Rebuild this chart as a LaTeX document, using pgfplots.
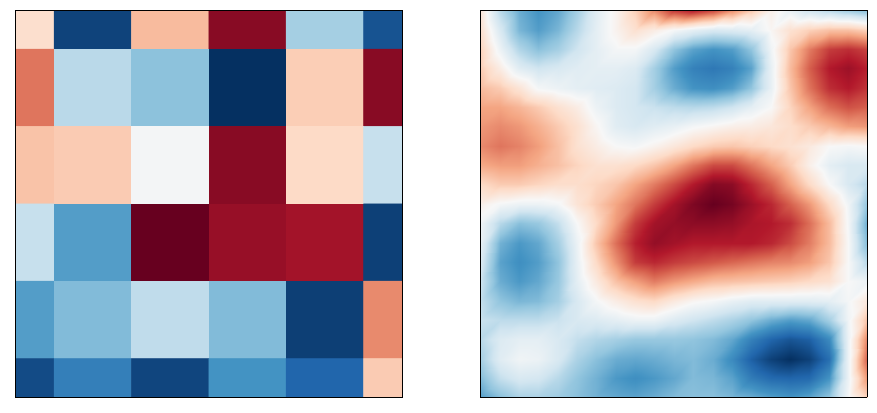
\documentclass[border=0pt]{standalone}
\usepackage{pgfplots}
\pgfplotsset{compat=1.18}
\pgfplotsset{
  colormap={rdbur}{
    rgb255(0cm)=(5,48,97); rgb255(1cm)=(33,102,172); rgb255(2cm)=(67,147,195);
    rgb255(3cm)=(146,197,222); rgb255(4cm)=(209,229,240); rgb255(5cm)=(247,247,247);
    rgb255(6cm)=(253,219,199); rgb255(7cm)=(244,165,130); rgb255(8cm)=(214,96,77);
    rgb255(9cm)=(178,24,43); rgb255(10cm)=(103,0,31)
  },
  panel/.style={
    scale only axis, width=290.25pt, height=290.25pt, anchor=south west,
    colormap name=rdbur, point meta min=0, point meta max=100,
    xtick=\empty, ytick=\empty, ztick=\empty, enlargelimits=false,
    y dir=reverse, axis on top, axis line style={line width=0.8pt}
  }
}
\begin{document}
\begin{tikzpicture}
\path[use as bounding box] (0,0) rectangle (657.75pt,309pt);
\begin{axis}[panel, at={(11.5pt,11pt)}, xmin=0, xmax=5, ymin=0, ymax=5]
\addplot[matrix plot*, mesh/cols=6, point meta=explicit]
 table[x expr={round(mod(\coordindex,6))}, y expr={round((\coordindex-mod(\coordindex,6))/6)}, meta index=0, row sep=\\, header=false]{
58.5\\3.5\\66\\95.6\\33\\6.4\\
77\\36.3\\29.4\\0\\62.5\\95.6\\
64.5\\63\\49\\95.6\\60\\38.4\\
38.5\\22\\100\\93.7\\92.1\\3\\
22\\28\\37.3\\28\\2.7\\74\\
5\\15.5\\3.9\\20\\10\\63\\
};
\end{axis}
\begin{axis}[panel, at={(360.25pt,11pt)}, xmin=0, xmax=20, ymin=0, ymax=20, view={0}{90}]
\addplot3[surf, shader=interp, mesh/cols=21, point meta=z]
 table[x expr={round(mod(\coordindex,21))}, y expr={round((\coordindex-mod(\coordindex,21))/21)}, z index=0, row sep=\\, header=false]{
57\\36\\25\\20\\24\\33\\44\\52\\62\\74\\86\\90\\84\\74\\64\\53\\46\\40\\36\\32\\28\\
59\\42\\27\\22\\27\\36\\45\\52\\58\\54\\49\\45\\42\\43\\45\\51\\58\\62\\65\\65\\62\\
62\\47\\35\\29\\33\\40\\45\\49\\49\\42\\30\\23\\20\\22\\30\\48\\64\\76\\85\\87\\84\\
63\\54\\44\\40\\42\\44\\45\\45\\43\\33\\22\\16\\14\\16\\23\\46\\66\\80\\90\\93\\89\\
66\\63\\57\\49\\47\\45\\44\\43\\41\\33\\25\\20\\19\\22\\30\\46\\64\\77\\87\\90\\86\\
70\\70\\67\\63\\58\\54\\47\\43\\41\\39\\37\\36\\37\\40\\45\\50\\61\\70\\78\\82\\80\\
72\\74\\72\\68\\63\\58\\51\\44\\42\\44\\46\\49\\51\\53\\54\\56\\59\\63\\67\\71\\72\\
74\\77\\75\\71\\65\\58\\54\\50\\49\\52\\56\\60\\63\\64\\62\\60\\58\\55\\50\\49\\50\\
69\\71\\71\\68\\65\\61\\58\\58\\60\\64\\70\\77\\83\\83\\77\\70\\63\\53\\45\\42\\42\\
60\\63\\63\\61\\59\\59\\61\\64\\70\\76\\83\\90\\96\\95\\88\\80\\70\\60\\50\\42\\36\\
53\\49\\47\\47\\49\\57\\63\\70\\77\\85\\92\\97\\100\\98\\93\\88\\80\\72\\60\\48\\30\\
48\\36\\29\\31\\38\\50\\60\\72\\85\\92\\94\\95\\95\\94\\91\\90\\87\\78\\66\\49\\25\\
46\\26\\21\\24\\33\\47\\64\\78\\89\\94\\92\\90\\90\\90\\90\\88\\83\\76\\66\\50\\28\\
43\\23\\19\\22\\30\\46\\60\\73\\85\\88\\85\\83\\81\\79\\77\\75\\74\\71\\64\\50\\36\\
40\\25\\21\\24\\31\\45\\55\\65\\71\\76\\72\\69\\66\\65\\64\\63\\62\\60\\58\\50\\47\\
38\\30\\27\\28\\33\\42\\49\\54\\58\\60\\55\\51\\49\\46\\44\\44\\44\\44\\45\\49\\56\\
39\\37\\37\\37\\39\\42\\43\\45\\47\\47\\43\\40\\37\\34\\30\\25\\22\\24\\33\\48\\65\\
36\\43\\45\\45\\42\\38\\35\\33\\31\\31\\31\\30\\28\\24\\16\\10\\7\\9\\18\\47\\75\\
33\\44\\48\\47\\42\\34\\29\\25\\24\\25\\27\\28\\25\\18\\9\\3\\0\\3\\12\\47\\80\\
28\\38\\42\\41\\36\\30\\26\\21\\19\\21\\24\\28\\27\\23\\15\\11\\10\\11\\20\\47\\72\\
22\\29\\34\\34\\32\\29\\26\\24\\23\\25\\28\\29\\29\\27\\25\\22\\20\\23\\30\\49\\62\\
};
\end{axis}
\end{tikzpicture}
\end{document}
